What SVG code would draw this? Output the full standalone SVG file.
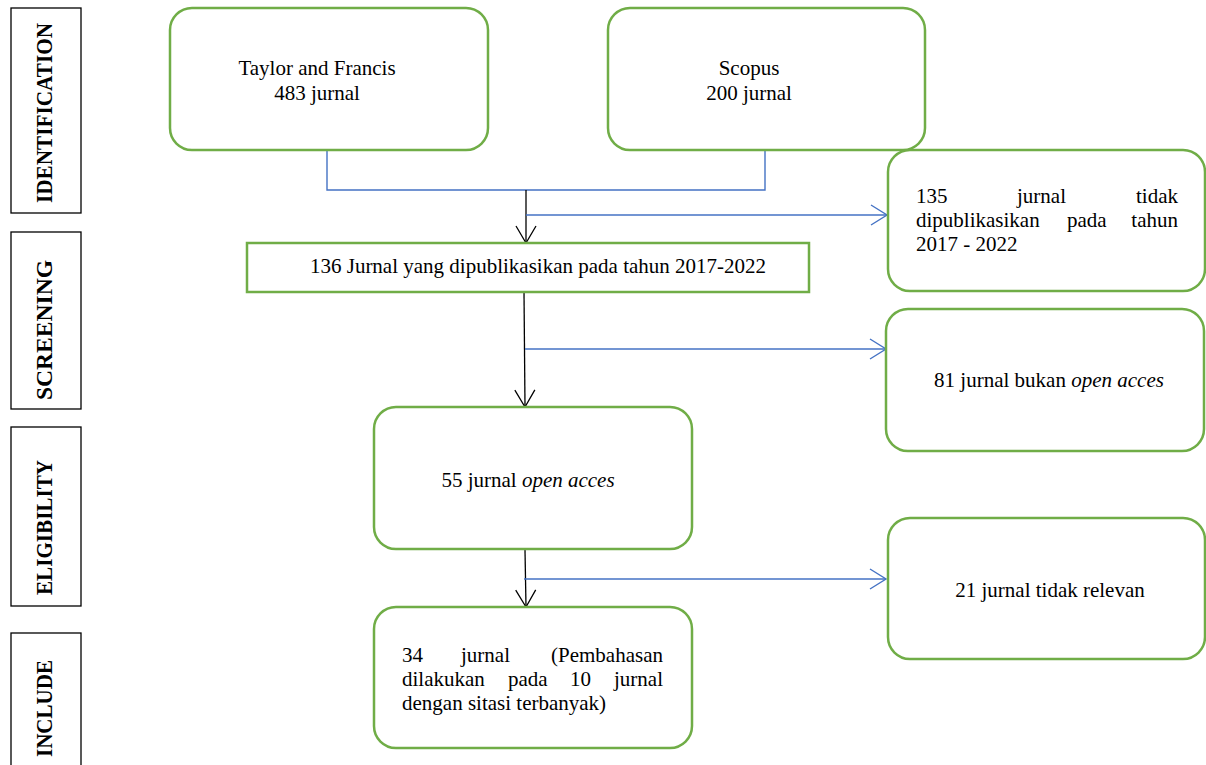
<svg xmlns="http://www.w3.org/2000/svg" width="1206" height="765" viewBox="0 0 1206 765">
<style>
.bg{fill:#fff}
.node{fill:#fff;stroke:#70AD47;stroke-width:2.5}
.side{fill:#fff;stroke:#000;stroke-width:1.3}
.t{font-family:"Liberation Serif","Times New Roman",serif;font-size:21px;fill:#000}
.lab{font-family:"Liberation Serif","Times New Roman",serif;font-size:24px;font-weight:bold;fill:#000}
.i{font-style:italic}
.blue{fill:none;stroke:#4472C4;stroke-width:1.4}
.black{fill:none;stroke:#000;stroke-width:1.3}
</style>
<defs>
<marker id="ab" viewBox="-20 -12 22 24" markerWidth="22" markerHeight="24" refX="0" refY="0" orient="auto" markerUnits="userSpaceOnUse" overflow="visible">
<path d="M-17,-10 L0,0 L-17,10" fill="none" stroke="#000" stroke-width="1.3"/>
</marker>
<marker id="au" viewBox="-20 -12 22 24" markerWidth="22" markerHeight="24" refX="0" refY="0" orient="auto" markerUnits="userSpaceOnUse" overflow="visible">
<path d="M-16,-10 L0,0 L-16,10" fill="none" stroke="#4472C4" stroke-width="1.4"/>
</marker>
</defs>
<rect class="bg" x="0" y="0" width="1206" height="765"/>

<g id="stages">
<g id="stage-identification">
<rect class="side" x="11" y="8" width="70" height="205"/>
<text class="lab" transform="translate(52,203) rotate(-90)" textLength="180" lengthAdjust="spacingAndGlyphs">IDENTIFICATION</text>
</g>
<g id="stage-screening">
<rect class="side" x="11" y="232" width="70" height="177"/>
<text class="lab" transform="translate(52,400) rotate(-90)" textLength="140" lengthAdjust="spacingAndGlyphs">SCREENING</text>
</g>
<g id="stage-eligibility">
<rect class="side" x="11" y="427" width="70" height="179"/>
<text class="lab" transform="translate(52,595) rotate(-90)" textLength="135" lengthAdjust="spacingAndGlyphs">ELIGIBILITY</text>
</g>
<g id="stage-include">
<rect class="side" x="11" y="633" width="70" height="150"/>
<text class="lab" transform="translate(52,757) rotate(-90)" textLength="97" lengthAdjust="spacingAndGlyphs">INCLUDE</text>
</g>
</g>

<g id="connectors">
<path class="blue" d="M327,150 V190 H765 V150"/>
<path class="black" d="M526,190 V243" marker-end="url(#ab)"/>
<path class="blue" d="M526,215 H887" marker-end="url(#au)"/>
<path class="black" d="M524,292 L525,407" marker-end="url(#ab)"/>
<path class="blue" d="M525,349 H886" marker-end="url(#au)"/>
<path class="black" d="M525,550 L526,607" marker-end="url(#ab)"/>
<path class="blue" d="M524,579 H886" marker-end="url(#au)"/>
</g>

<g id="taylor">
<rect class="node" x="170" y="8" width="318" height="142" rx="22"/>
<text class="t" x="317" y="75" text-anchor="middle">Taylor and Francis</text>
<text class="t" x="317" y="100" text-anchor="middle">483 jurnal</text>
</g>
<g id="scopus">
<rect class="node" x="608" y="8" width="317" height="142" rx="22"/>
<text class="t" x="749" y="75" text-anchor="middle">Scopus</text>
<text class="t" x="749" y="100" text-anchor="middle">200 jurnal</text>
</g>
<g id="published">
<rect class="node" x="247" y="243" width="562" height="49"/>
<text class="t" x="538" y="273" text-anchor="middle">136 Jurnal yang dipublikasikan pada tahun 2017-2022</text>
</g>
<g id="not-published">
<rect class="node" x="888" y="150" width="317" height="141" rx="22"/>
<text class="t" x="916" y="203">135</text>
<text class="t" x="1017" y="203">jurnal</text>
<text class="t" x="1178" y="203" text-anchor="end">tidak</text>
<text class="t" x="916" y="227">dipublikasikan</text>
<text class="t" x="1067" y="227">pada</text>
<text class="t" x="1178" y="227" text-anchor="end">tahun</text>
<text class="t" x="916" y="251">2017 - 2022</text>
</g>
<g id="not-open">
<rect class="node" x="886" y="309" width="318" height="142" rx="22"/>
<text class="t" x="1049" y="387" text-anchor="middle">81 jurnal bukan <tspan class="i">open acces</tspan></text>
</g>
<g id="open">
<rect class="node" x="374" y="407" width="318" height="142" rx="22"/>
<text class="t" x="528" y="487" text-anchor="middle">55 jurnal <tspan class="i">open acces</tspan></text>
</g>
<g id="not-relevant">
<rect class="node" x="888" y="518" width="317" height="141" rx="22"/>
<text class="t" x="1050" y="597" text-anchor="middle">21 jurnal tidak relevan</text>
</g>
<g id="included">
<rect class="node" x="374" y="607" width="318" height="141" rx="22"/>
<text class="t" x="402" y="662">34</text>
<text class="t" x="461" y="662">jurnal</text>
<text class="t" x="663" y="662" text-anchor="end">(Pembahasan</text>
<text class="t" x="402" y="686">dilakukan</text>
<text class="t" x="508" y="686">pada</text>
<text class="t" x="570" y="686">10</text>
<text class="t" x="663" y="686" text-anchor="end">jurnal</text>
<text class="t" x="402" y="710">dengan sitasi terbanyak)</text>
</g>
</svg>
